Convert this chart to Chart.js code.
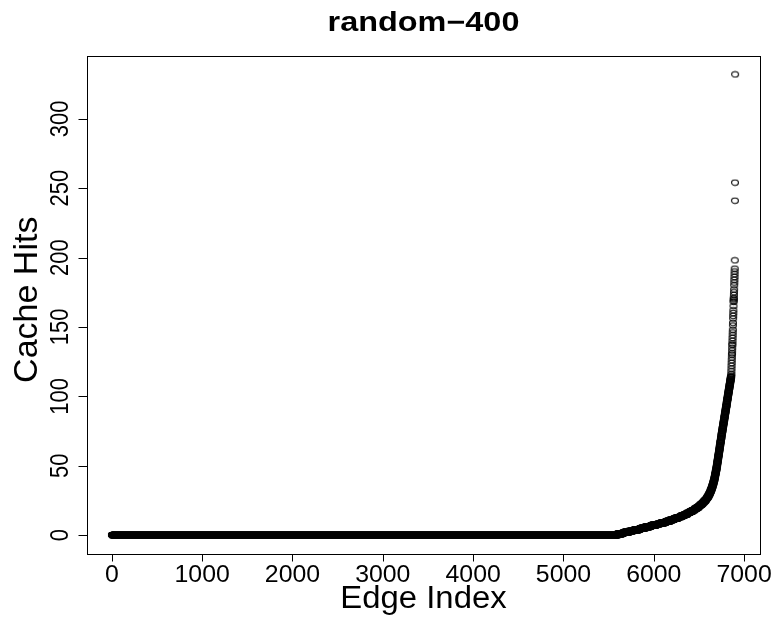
<!DOCTYPE html>
<html>
<head>
<meta charset="utf-8">
<script src="https://cdn.jsdelivr.net/npm/chart.js@4.4.1/dist/chart.umd.min.js"></script>
<style>
  html, body { margin: 0; padding: 0; background: #fff; }
  #wrap { width: 775px; height: 620px; }
</style>
</head>
<body>
<div id="wrap"><canvas id="chart" width="775" height="620"></canvas></div>
<script>
// number of edges having each hit count (array index = hit count 0..114)
const edgesPerHitCount = [
  5600,
  62, 62, 61, 61, 60, 60, 58, 56, 52, 48,
  44, 41, 38, 35, 32, 30,
  27, 25, 23, 21, 19, 17,
  16, 14, 13, 12, 10, 9, 8, 7, 7,
  6, 6, 5, 5, 5, 4, 4, 4, 4, 3, 3, 3,
  3, 3, 3, 3, 3, 2, 3, 2, 2, 3, 2, 2, 3, 2,
  3, 2, 2, 3, 2, 2, 3, 2, 2, 3, 2, 2, 3, 2, 2, 3, 2,
  3, 2, 3, 2, 3, 2, 3, 2, 3, 2, 3, 2, 3, 2, 3, 2, 3, 2, 3, 2,
  2, 3, 2, 3, 2, 3, 2, 3, 2, 3, 2, 3, 2, 3, 2, 3, 2, 3, 2, 3
];
// the sparse top end, one value per edge (sorted)
const tailHits = [
  115, 116, 118, 120, 122, 124, 126, 128, 130, 131,
  133, 135, 137, 138, 140, 142, 144, 146, 148, 151,
  153, 156, 158, 160, 162, 165, 168, 169, 170, 171,
  173, 175, 177, 180, 182, 184, 186, 188, 190, 192,
  198, 241, 254, 332
];
const xTicks = [0, 1000, 2000, 3000, 4000, 5000, 6000, 7000];
const yTicks = [0, 50, 100, 150, 200, 250, 300];

const title = 'random\u2212400';
const xLabel = 'Edge Index';
const yLabel = 'Cache Hits';

const FONT = '"Liberation Sans", Arial, Helvetica, sans-serif';

// build sorted points: edge index -> hits
const points = [];
let idx = 1;
edgesPerHitCount.forEach((n, hits) => {
  for (let k = 0; k < n; k++) points.push({ x: idx++, y: hits });
});
tailHits.forEach(h => points.push({ x: idx++, y: h }));
const nEdges = idx - 1;
const maxHits = Math.max(...tailHits);

// R style 4% axis extension
const xPad = 0.04 * (nEdges - 1);
const yPad = 0.04 * maxHits;

// open circle marker (pch = 1 look)
function makeRing() {
  const c = document.createElement('canvas');
  c.width = 10; c.height = 8;
  const g = c.getContext('2d');
  g.strokeStyle = '#000';
  g.lineWidth = 1.1;
  g.beginPath();
  g.ellipse(5, 4, 3.4, 2.7, 0, 0, Math.PI * 2);
  g.stroke();
  return c;
}

// sx stretches along screen x (for rotated text: the glyph height)
function drawText(ctx, text, x, y, font, sx, rotate) {
  ctx.save();
  ctx.translate(x, y);
  ctx.scale(sx, 1);
  if (rotate) ctx.rotate(-Math.PI / 2);
  ctx.font = font;
  ctx.fillStyle = '#000';
  ctx.textAlign = 'center';
  ctx.textBaseline = 'alphabetic';
  ctx.fillText(text, 0, 0);
  ctx.restore();
}

const rAxes = {
  id: 'rAxes',
  afterDraw(chart) {
    const ctx = chart.ctx;
    const a = chart.chartArea;
    const xs = chart.scales.x, ys = chart.scales.y;
    ctx.save();
    ctx.strokeStyle = '#000';
    ctx.lineWidth = 1;
    ctx.strokeRect(Math.round(a.left) + 0.5, Math.round(a.top) + 0.5,
      Math.round(a.right - a.left), Math.round(a.bottom - a.top));

    const bottom = Math.round(a.bottom) + 0.5;
    const left = Math.round(a.left) + 0.5;
    ctx.beginPath();
    xTicks.forEach(t => {
      const px = Math.round(xs.getPixelForValue(t)) + 0.5;
      ctx.moveTo(px, bottom);
      ctx.lineTo(px, bottom + 7);
    });
    yTicks.forEach(t => {
      const py = Math.round(ys.getPixelForValue(t)) + 0.5;
      ctx.moveTo(left, py);
      ctx.lineTo(left - 9, py);
    });
    ctx.stroke();

    xTicks.forEach(t => {
      drawText(ctx, String(t), xs.getPixelForValue(t), 582, '23px ' + FONT, 1.08, false);
    });
    yTicks.forEach(t => {
      drawText(ctx, String(t), 68, ys.getPixelForValue(t), '22px ' + FONT, 1.15, true);
    });

    const cx = (a.left + a.right) / 2;
    const cy = (a.top + a.bottom) / 2;
    drawText(ctx, xLabel, cx, 608, '31px ' + FONT, 1.06, false);
    drawText(ctx, yLabel, 37, cy - 5, '34px ' + FONT, 0.95, true);
    drawText(ctx, title, cx, 31, 'bold 27px ' + FONT, 1.2, false);
    ctx.restore();
  }
};

new Chart(document.getElementById('chart'), {
  type: 'scatter',
  data: {
    datasets: [{
      data: points,
      pointStyle: makeRing(),
      pointRadius: 3,
      pointHoverRadius: 3
    }]
  },
  options: {
    responsive: false,
    animation: false,
    devicePixelRatio: 1,
    events: [],
    layout: { padding: { left: 87, right: 15, top: 56, bottom: 66.5 } },
    plugins: { legend: { display: false }, tooltip: { enabled: false } },
    scales: {
      x: { type: 'linear', display: false, min: 1 - xPad, max: nEdges + xPad },
      y: { type: 'linear', display: false, min: -yPad, max: maxHits + yPad }
    }
  },
  plugins: [rAxes]
});
</script>
</body>
</html>
